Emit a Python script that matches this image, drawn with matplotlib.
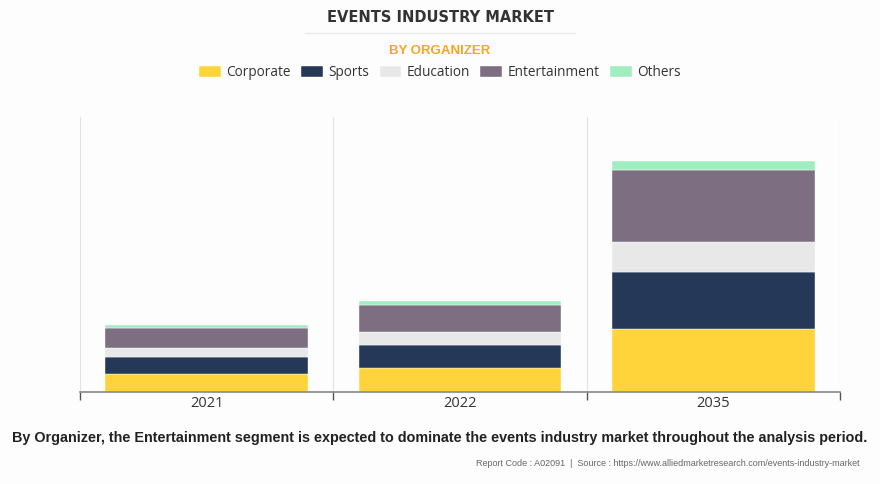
import numpy as np
import matplotlib
matplotlib.use('Agg')
import matplotlib.pyplot as plt
from matplotlib.lines import Line2D

years = ['2021', '2022', '2035']
segments = ['Corporate', 'Sports', 'Education', 'Entertainment', 'Others']
corporate = [18.4, 24.4, 62.7]
sports = [16.7, 23.0, 57.3]
education = [9.4, 12.6, 30.0]
entertainment = [20.0, 27.0, 71.7]
others = [3.0, 3.7, 9.0]
colors = ['#FFD43B', '#253858', '#E8E8E8', '#7D6E82', '#A0EDC0']

series = [corporate, sports, education, entertainment, others]

fig = plt.figure(figsize=(8.8, 4.84), dpi=100)
fig.patch.set_facecolor('#FDFDFD')
ax = fig.add_axes([80 / 880, 92 / 484, 760 / 880, 275 / 484])
ax.set_facecolor('#FDFDFD')

ind = np.arange(len(years))
bottom = np.zeros(len(years))
for name, vals, c in zip(segments, series, colors):
    ax.bar(ind, vals, 0.8, bottom=bottom, color=c, edgecolor='#FFFFFF', linewidth=0.3, label=name)
    bottom += np.array(vals)

ax.set_xlim(-0.5, 2.5)
ax.set_ylim(0, 275)

# boundaries between categories
for b in np.arange(-0.5, 3, 1):
    ax.axvline(b, color='#E3E3E3', linewidth=0.8, zorder=0)

for s in ['top', 'right', 'left']:
    ax.spines[s].set_visible(False)
ax.spines['bottom'].set_color('#888888')
ax.spines['bottom'].set_linewidth(1.2)
ax.set_yticks([])
ax.set_xticks(np.arange(-0.5, 3, 1))
ax.set_xticklabels([])
ax.tick_params(axis='x', which='major', length=6, color='#555555', width=1)
ax.set_xticks(ind, minor=True)
ax.set_xticklabels(years, minor=True, fontsize=10.5, family='Open Sans', color='#333333')
ax.tick_params(axis='x', which='minor', length=0, pad=3)

# titles
fig.text(0.5, 1 - 18 / 484, 'EVENTS INDUSTRY MARKET', ha='center', va='center',
         fontsize=10.5, fontweight='bold', color='#333333', family='DejaVu Sans')
fig.add_artist(Line2D([305 / 880, 575 / 880], [1 - 33 / 484] * 2, color='#EBEBEB', linewidth=1))
fig.text(0.5, 1 - 51 / 484, 'BY ORGANIZER', ha='center', va='center',
         fontsize=9.5, fontweight='bold', color='#F5A623', family='Liberation Sans')

h, l = ax.get_legend_handles_labels()
fig.legend(h, l, loc='center', bbox_to_anchor=(0.5, 1 - 73 / 484), ncol=5, frameon=False,
           prop={'family': 'Open Sans', 'size': 9.8}, handlelength=1.6, handleheight=0.9,
           columnspacing=0.75, handletextpad=0.4, labelcolor='#333333')

fig.text(0.5, 1 - 438 / 484,
         'By Organizer, the Entertainment segment is expected to dominate the events industry market throughout the analysis period.',
         ha='center', va='center', fontsize=10.35, fontweight='bold', color='#222222', family='Liberation Sans')
fig.text(860 / 880, 1 - 463 / 484,
         'Report Code : A02091  |  Source : https://www.alliedmarketresearch.com/events-industry-market',
         ha='right', va='center', fontsize=6.5, color='#666666', family='Liberation Sans')

plt.savefig('out.png', dpi=100, facecolor=fig.get_facecolor())
